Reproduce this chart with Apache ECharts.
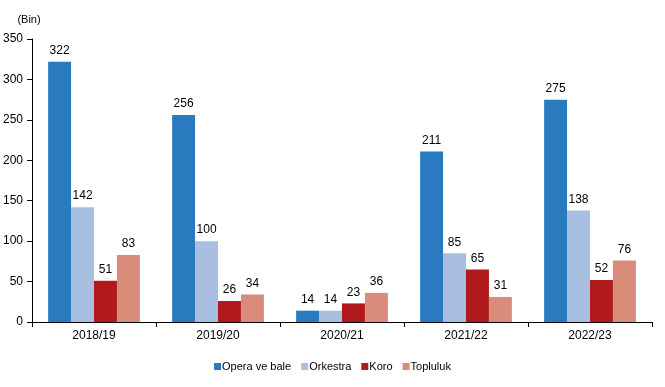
<!DOCTYPE html>
<html><head><meta charset="utf-8">
<script src="https://cdn.jsdelivr.net/npm/echarts@6/dist/echarts.min.js"></script>
<style>html,body{margin:0;padding:0;background:#fff}#c{width:665px;height:387px}</style>
</head><body><div id="c"></div>
<script>
const categories = ['2018/19','2019/20','2020/21','2021/22','2022/23'];
const seriesNames = ['Opera ve bale','Orkestra','Koro','Topluluk'];
const opera = [322,256,14,211,275];
const orkestra = [142,100,14,85,138];
const koro = [51,26,23,65,52];
const topluluk = [83,34,36,31,76];
const yTicks = [0,50,100,150,200,250,300,350];
const colors = ['#2a7abf','#a8bfe2','#b11a1c','#d98c7a'];
const font = 'Liberation Sans, Arial, sans-serif';
const data = [opera, orkestra, koro, topluluk];
const chart = echarts.init(document.getElementById('c'));
chart.setOption({
  animation:false,
  textStyle:{fontFamily:font},
  grid:{left:32,right:13,top:39,bottom:65},
  legend:{bottom:10,left:'center',itemWidth:7,itemHeight:7,itemGap:10,icon:'rect',
    textStyle:{fontFamily:font,fontSize:11,color:'#000',padding:[0,0,0,-4]},data:seriesNames},
  xAxis:{type:'category',data:categories,
    axisLine:{lineStyle:{color:'#000',width:1}},
    axisTick:{show:true,length:5,lineStyle:{color:'#000'}},
    axisLabel:{color:'#000',fontSize:12,fontFamily:font,margin:8}},
  yAxis:{type:'value',min:0,max:350,interval:50,
    name:'(Bin)',nameLocation:'end',nameGap:14,
    nameTextStyle:{color:'#000',fontSize:11,fontFamily:font,align:'center',padding:[0,0,0,-6]},
    axisLine:{show:true,lineStyle:{color:'#000'}},
    axisTick:{show:true,length:5,lineStyle:{color:'#000'}},
    splitLine:{show:false},
    axisLabel:{color:'#000',fontSize:12,fontFamily:font,margin:9,
      formatter:v=>yTicks.includes(v)?String(v):''}},
  series: seriesNames.map((n,i)=>({
    name:n,type:'bar',data:data[i],barGap:'0%',barCategoryGap:'26%',
    itemStyle:{color:colors[i]},
    label:{show:true,position:'top',color:'#000',fontSize:12,fontFamily:font,distance:5}
  }))
});
</script></body></html>
